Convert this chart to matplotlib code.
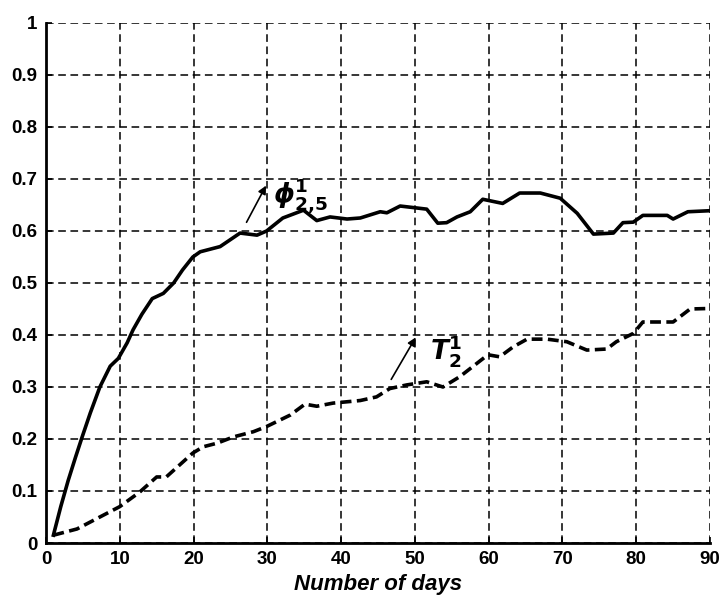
import matplotlib
matplotlib.use('Agg')
import matplotlib.pyplot as plt

# Curves
phi_days = [1, 2, 3, 4, 4.9, 6, 7.3, 8.7, 9.8, 11, 11.8, 13, 14.4, 15.9, 17.3, 18.5, 19.9,
            20.9, 23.6, 26.3, 28.6, 29.9, 32.1, 34.9, 36.7, 38.5, 40.8, 42.6, 45.3, 46.2,
            48, 51.6, 53.1, 54.3, 55.7, 57.5, 59.2, 61.9, 64.2, 67, 69.7, 72, 74.2, 76.9,
            78.2, 79.6, 80.9, 84.2, 85, 87, 90]
phi_vals = [0.015, 0.07, 0.12, 0.165, 0.204, 0.25, 0.30, 0.34, 0.355, 0.385, 0.41, 0.44, 0.47,
            0.48, 0.50, 0.525, 0.55, 0.56, 0.57, 0.596, 0.592, 0.60, 0.625, 0.64, 0.62, 0.627,
            0.623, 0.625, 0.637, 0.635, 0.648, 0.642, 0.615, 0.616, 0.627, 0.637, 0.661,
            0.653, 0.673, 0.673, 0.663, 0.634, 0.594, 0.596, 0.616, 0.617, 0.63, 0.63, 0.623,
            0.637, 0.639]

t_days = [1, 4.2, 7.3, 10, 12.7, 15, 16.3, 19.9, 21.3, 23.2, 25.4, 28.1, 29.9, 33.1, 35.1,
          36.7, 38.9, 42.6, 44.8, 46.6, 48.9, 51.6, 53.8, 56.1, 59.9, 61.5, 63.3, 65.2, 67.9,
          70.6, 73.3, 76, 77.3, 79.6, 80.9, 85, 87.3, 90]
t_vals = [0.015, 0.027, 0.05, 0.07, 0.098, 0.127, 0.127, 0.173, 0.185, 0.192, 0.204, 0.214,
          0.224, 0.246, 0.267, 0.263, 0.269, 0.274, 0.281, 0.297, 0.304, 0.31, 0.30, 0.32,
          0.362, 0.358, 0.377, 0.392, 0.392, 0.387, 0.371, 0.373, 0.387, 0.403, 0.425, 0.425,
          0.45, 0.451]

x_ticks = list(range(0, 91, 10))
y_ticks = [0, 0.1, 0.2, 0.3, 0.4, 0.5, 0.6, 0.7, 0.8, 0.9, 1]
y_labels = ['0', '0.1', '0.2', '0.3', '0.4', '0.5', '0.6', '0.7', '0.8', '0.9', '1']

plt.rcParams['font.family'] = ['Liberation Sans', 'DejaVu Sans']

fig = plt.figure(figsize=(7.19, 6.03), dpi=100)
ax = fig.add_axes([0.064, 0.0995, 0.9235, 0.8624])

ax.plot(phi_days, phi_vals, color='black', linewidth=2.6)
ax.plot(t_days, t_vals, color='black', linewidth=2.6, linestyle=(0, (3, 1.5)))

ax.set_xlim(0, 90)
ax.set_ylim(0, 1)
ax.set_xticks(x_ticks)
ax.set_yticks(y_ticks)
ax.set_yticklabels(y_labels)
ax.tick_params(direction='in', length=4, width=1.2, labelsize=13.5, pad=6)
for lab in ax.get_xticklabels() + ax.get_yticklabels():
    lab.set_fontweight('bold')

ax.grid(True, color='black', linestyle=(0, (5, 3)), linewidth=1.1)
ax.spines['top'].set_visible(False)
ax.spines['right'].set_visible(False)
ax.spines['left'].set_linewidth(2)
ax.spines['bottom'].set_linewidth(2)

ax.set_xlabel('Number of days', fontsize=16, fontweight='bold', style='italic', labelpad=4)

# annotations with arrows
arrow = dict(arrowstyle='-|>', color='black', lw=1.2, mutation_scale=12)
ax.annotate('', xy=(30, 0.692), xytext=(27, 0.612), arrowprops=arrow)
ax.text(30.8, 0.652, r'$\boldsymbol{\phi}^{\mathbf{1}}_{\mathbf{2{,}5}}$', fontsize=19)
ax.annotate('', xy=(50.3, 0.40), xytext=(46.6, 0.31), arrowprops=arrow)
ax.text(52.0, 0.352, r'$\mathbfit{T}^{\mathbf{1}}_{\mathbf{2}}$', fontsize=19)

fig.savefig('out.png', dpi=100)
